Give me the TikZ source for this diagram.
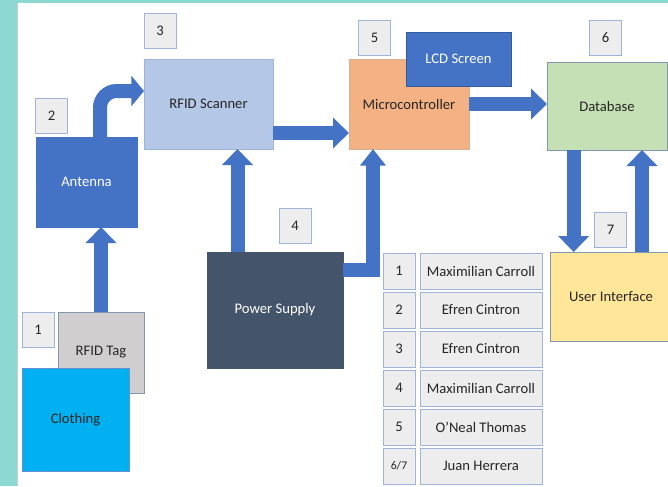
\documentclass[tikz,border=0pt]{standalone}
\usepackage{fontspec}
\setmainfont{Carlito}
\usetikzlibrary{arrows.meta,calc}

\definecolor{tealbg}{HTML}{8DD8D2}
\definecolor{flowblue}{HTML}{4472C4}
\definecolor{scanfill}{HTML}{B4C7E7}
\definecolor{mcufill}{HTML}{F4B183}
\definecolor{dbfill}{HTML}{C5E0B4}
\definecolor{uifill}{HTML}{FFE699}
\definecolor{pwrfill}{HTML}{44546A}
\definecolor{tagfill}{HTML}{D0CECE}
\definecolor{clothfill}{HTML}{00B0F0}
\definecolor{cellgray}{HTML}{EDEDED}
\definecolor{cellline}{HTML}{9FB4D8}
\definecolor{bordgray}{HTML}{8497B0}
\definecolor{txtdark}{HTML}{262626}

\tikzset{
  block/.style={draw=bordgray, line width=0.6pt, inner sep=0pt, outer sep=0pt,
    font=\fontsize{12.5}{15}\selectfont, text=txtdark},
  numbox/.style={block, draw=cellline, fill=cellgray, minimum width=9.6mm, minimum height=10.5mm},
  cell/.style={numbox, minimum width=36.6mm, minimum height=10.8mm},
  flow/.style={draw=flowblue, line width=4.2mm, -{Triangle[length=4.8mm,width=9mm]}}
}

\begin{document}
\begin{tikzpicture}[x=0.3mm, y=-0.3mm]
    \useasboundingbox (0,0) rectangle (668,486);
    % page background
    \fill[tealbg] (0,0) rectangle (668,486);
    \fill[white] (17,3) rectangle (668,486);
    \draw[gray!40, line width=0.6pt] (17.5,3) -- (17.5,486);

    % main blocks
    \node (scan) [block, fill=scanfill, draw=cellline, minimum width=38.7mm, minimum height=27mm] at (208.5,104) {RFID Scanner};
    \node (ant) [block, fill=flowblue, draw=flowblue, text=white, minimum width=30.3mm, minimum height=27mm] at (86.5,182) {Antenna};
    \node (mcu) [block, fill=mcufill, draw=mcufill!80!black!70, minimum width=36mm, minimum height=27mm] at (409,104) {Microcontroller};
    \node (lcd) [block, fill=flowblue, draw=flowblue!80!black, text=white, minimum width=31.5mm, minimum height=16.2mm] at (458.5,59) {LCD Screen};
    \node (db) [block, fill=dbfill, minimum width=36mm, minimum height=26.4mm] at (607,106) {Database};
    \node (ui) [block, fill=uifill, minimum width=36.6mm, minimum height=26.7mm] at (611,296.5) {User Interface};
    \node (pwr) [block, fill=pwrfill, draw=pwrfill, text=white, minimum width=40.8mm, minimum height=34.8mm] at (275,310) {Power Supply};
    \node (tag) [block, fill=tagfill, minimum width=25.8mm, minimum height=24.3mm] at (101,352.5) {RFID Tag};
    \node (cloth) [block, fill=clothfill, draw=flowblue!80, minimum width=32.1mm, minimum height=30.9mm] at (75.5,419.5) {Clothing};

    % step numbers
    \node (n1) [numbox] at (38,329.5) {1};
    \node (n2) [numbox] at (51.5,115.5) {2};
    \node (n3) [numbox] at (160,31) {3};
    \node (n4) [numbox] at (295,225.5) {4};
    \node (n5) [numbox] at (374.5,38) {5};
    \node (n6) [numbox] at (605.5,38) {6};
    \node (n7) [numbox] at (610.5,229.5) {7};

    % flows
    \draw[flow] (tag.north) -- (tag.north |- ant.south);
    \draw[flow, rounded corners=5mm, -{Triangle[length=3.8mm,width=9mm]}] ([xshift=4.05mm]ant.north) |- ([yshift=3.9mm]scan.west);
    \draw[flow] ([yshift=-8.7mm]scan.east) -- ([yshift=-8.7mm]mcu.west);
    \draw[flow] (mcu.east) -- (mcu.east -| db.west);
    \draw[flow] ([xshift=-11.25mm]pwr.north) -- ([xshift=-11.25mm]pwr.north |- scan.south);
    \draw[flow, -{Triangle[length=5mm,width=7.5mm]}] ($(pwr.north east)+(0,17.5)$) -| ([xshift=-10.8mm]mcu.south);
    \draw[flow] ([xshift=-10mm]db.south) -- ([xshift=-10mm]db.south |- ui.north);
    \draw[flow] ([xshift=10.5mm]db.south |- ui.north) -- ([xshift=10.5mm]db.south);

    % who did what
    \foreach \i/\num/\name in {1/1/Maximilian Carroll, 2/2/Efren Cintron, 3/3/Efren Cintron,
        4/4/Maximilian Carroll, 5/5/O’Neal Thomas, 6/{\fontsize{10}{12}\selectfont 6/7}/Juan Herrera} {
      \node (idx\i) [numbox, minimum height=10.8mm] at (399,{271+39*(\i-1)}) {\num};
      \node (who\i) [cell] at (481,{271+39*(\i-1)}) {\name};
    }
\end{tikzpicture}
\end{document}
